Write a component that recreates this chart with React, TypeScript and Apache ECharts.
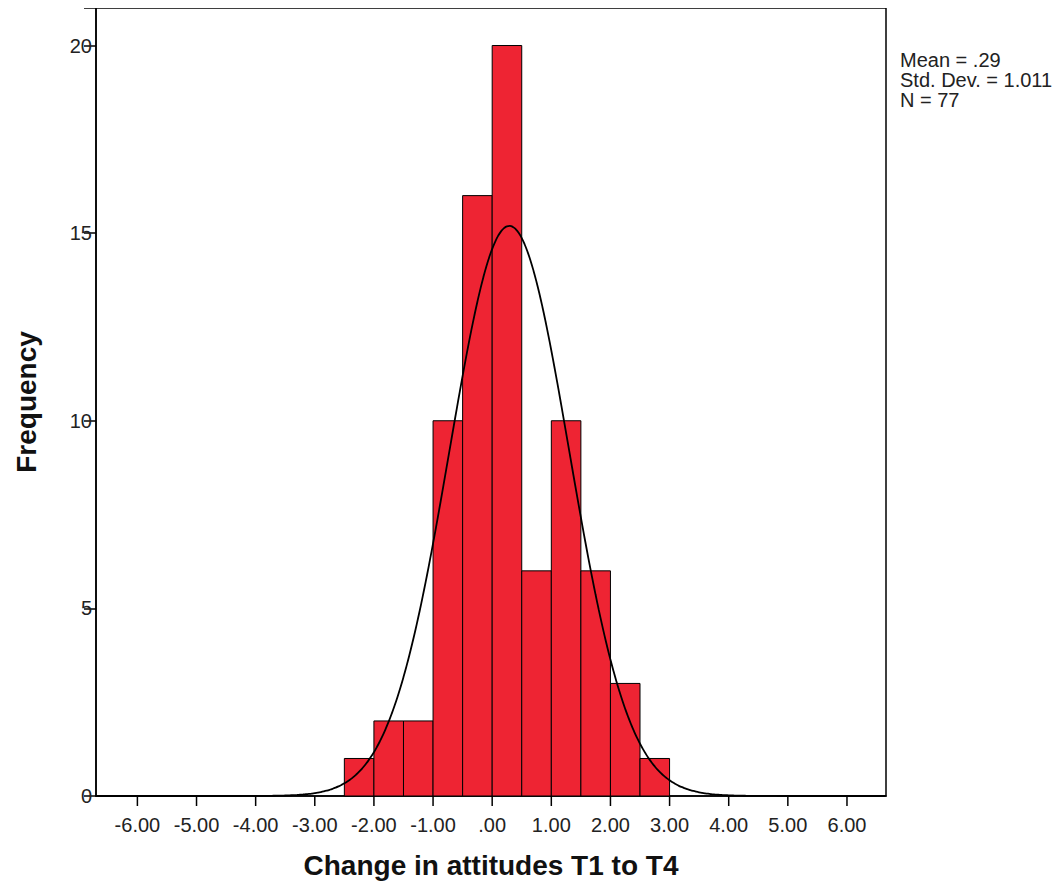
import React, { useEffect, useRef } from "react";
import * as echarts from "echarts";

const binStarts = [-2.5, -2.0, -1.5, -1.0, -0.5, 0.0, 0.5, 1.0, 1.5, 2.0, 2.5];
const binWidth = 0.5;
const counts = [1, 2, 2, 10, 16, 20, 6, 10, 6, 3, 1];
const statMean = 0.29;
const statSD = 1.011;
const statN = 77;
const xTicks = [-6, -5, -4, -3, -2, -1, 0, 1, 2, 3, 4, 5, 6];
const statLines = ["Mean = .29", "Std. Dev. = 1.011", "N = 77"];

function fmtX(v: number): string {
  if (Math.abs(v) < 1e-9) return ".00";
  return v.toFixed(2);
}

export default function App() {
  const ref = useRef<HTMLDivElement>(null);
  useEffect(() => {
    if (!ref.current) return;
    const chart = echarts.init(ref.current, undefined, { renderer: "svg" });
    const barData = binStarts.map((s, i) => [s, s + binWidth, counts[i]]);
    const curve: number[][] = [];
    const scale = (statN * binWidth) / (statSD * Math.sqrt(2 * Math.PI));
    for (let x = -6.7; x <= 6.66; x += 0.05) {
      const z = (x - statMean) / statSD;
      curve.push([x, scale * Math.exp(-0.5 * z * z)]);
    }
    const font = "'Liberation Sans', Arial, sans-serif";
    chart.setOption({
      animation: false,
      backgroundColor: "#ffffff",
      grid: {
        left: 96,
        top: 8,
        right: 176,
        bottom: 93,
        show: true,
        borderColor: "#000",
        borderWidth: 1.5,
        backgroundColor: "transparent",
      },
      xAxis: {
        type: "value",
        min: -6.7,
        max: 6.66,
        name: "Change in attitudes T1 to T4",
        nameLocation: "middle",
        nameGap: 55,
        nameTextStyle: { fontFamily: font, fontWeight: "bold", fontSize: 28, color: "#111" },
        splitLine: { show: false },
        axisLine: { show: true, onZero: false, lineStyle: { color: "#000", width: 1.5 } },
        axisTick: { show: false },
        axisLabel: { show: false },
      },
      yAxis: {
        type: "value",
        min: 0,
        max: 21,
        interval: 5,
        name: "Frequency",
        nameLocation: "middle",
        nameGap: 56,
        nameRotate: 90,
        nameTextStyle: { fontFamily: font, fontWeight: "bold", fontSize: 28, color: "#111" },
        splitLine: { show: false },
        axisLine: { show: true, onZero: false, lineStyle: { color: "#000", width: 1.5 } },
        axisTick: { show: true, length: 12, lineStyle: { color: "#000", width: 1.5 } },
        axisLabel: {
          fontFamily: font,
          fontSize: 20,
          color: "#222",
          margin: 4,
          formatter: (v: number) => (v % 5 === 0 && v <= 20 ? String(v) : ""),
        },
      },
      series: [
        {
          type: "custom",
          renderItem: (params: any, api: any) => {
            const x0 = api.value(0);
            const x1 = api.value(1);
            const c = api.value(2);
            const p0 = api.coord([x0, c]);
            const p1 = api.coord([x1, 0]);
            return {
              type: "rect",
              shape: { x: p0[0], y: p0[1], width: p1[0] - p0[0], height: p1[1] - p0[1] },
              style: { fill: "#EE2433", stroke: "#000", lineWidth: 1 },
            };
          },
          data: barData,
          encode: { x: [0, 1], y: 2 },
          z: 2,
        },
        {
          type: "line",
          data: curve,
          showSymbol: false,
          smooth: true,
          lineStyle: { color: "#000", width: 1.8 },
          z: 3,
        },
        {
          type: "custom",
          renderItem: (params: any, api: any) => {
            const v = api.value(0);
            const p = api.coord([v, 0]);
            return {
              type: "group",
              children: [
                {
                  type: "line",
                  shape: { x1: p[0], y1: p[1], x2: p[0], y2: p[1] + 10 },
                  style: { stroke: "#000", lineWidth: 1.5 },
                },
                {
                  type: "text",
                  x: p[0],
                  y: p[1] + 29,
                  style: {
                    text: fmtX(v),
                    fill: "#222",
                    font: `20px ${font}`,
                    align: "center",
                    verticalAlign: "middle",
                  },
                },
              ],
            };
          },
          data: xTicks.map((t) => [t]),
          encode: { x: 0 },
          clip: false,
          silent: true,
          z: 4,
        },
      ],
      graphic: statLines.map((t, i) => ({
        type: "text",
        left: 900,
        top: 50 + i * 20,
        style: { text: t, fill: "#222", font: `20px ${font}` },
      })),
    });
    return () => chart.dispose();
  }, []);
  return <div ref={ref} style={{ width: 1062, height: 889, margin: -8 }} />;
}
